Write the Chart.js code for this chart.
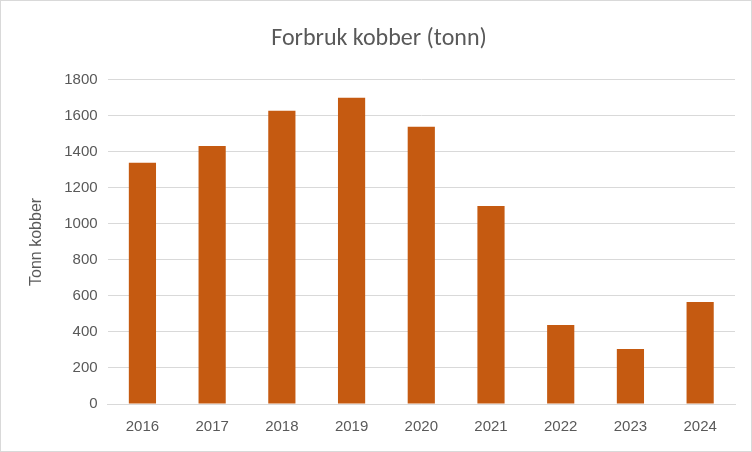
<!DOCTYPE html>
<html><head><meta charset="utf-8">
<script src="https://cdn.jsdelivr.net/npm/chart.js@4"></script>
<style>html,body{margin:0;padding:0;background:#fff}
#w{position:absolute;left:0;top:0;width:750px;height:450px;border:1px solid #d9d9d9}</style>
</head><body><div id="w"><canvas id="c"></canvas></div>
<script>
const categories=["2016","2017","2018","2019","2020","2021","2022","2023","2024"];
const values=[1339,1433,1628,1700,1539,1100,439,306,567];
const yTicks=[0,200,400,600,800,1000,1200,1400,1600,1800];
new Chart(document.getElementById('c'),{type:'bar',
data:{labels:categories,datasets:[{data:values,backgroundColor:'#C55A11',categoryPercentage:1,barPercentage:0.39}]},
options:{responsive:true,maintainAspectRatio:false,animation:false,
layout:{padding:{left:22,right:16,top:8,bottom:9}},
plugins:{legend:{display:false},tooltip:{enabled:false},
title:{display:true,text:'Forbruk kobber (tonn)',color:'#595959',font:{family:'Calibri, Carlito, "Liberation Sans", sans-serif',size:24,weight:'normal'},padding:{top:16,bottom:26}}},
scales:{x:{grid:{display:false},border:{color:'#d9d9d9'},ticks:{color:'#595959',font:{size:15},padding:6}},
y:{min:0,max:1800,afterBuildTicks:a=>{a.ticks=yTicks.map(v=>({value:v}));},
grid:{color:'#d9d9d9',drawTicks:false},border:{display:false},
ticks:{color:'#595959',font:{size:15},padding:10,callback:v=>String(v)},
title:{display:true,text:'Tonn kobber',color:'#595959',font:{size:16},padding:{bottom:8}}}}}});
</script></body></html>
